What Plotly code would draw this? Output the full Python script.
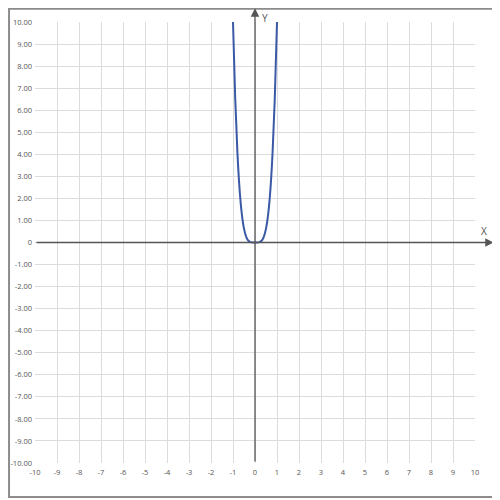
import plotly.graph_objects as go

# puntos
curva_x = [-1.0, -0.9, -0.8, -0.7, -0.6, -0.5, -0.4, -0.3, -0.2, -0.1, 0.0,
           0.1, 0.2, 0.3, 0.4, 0.5, 0.6, 0.7, 0.8, 0.9, 1.0]
curva_y = [10.0, 6.56, 4.10, 2.40, 1.30, 0.63, 0.26, 0.08, 0.02, 0.00, 0.0,
           0.00, 0.02, 0.08, 0.26, 0.63, 1.30, 2.40, 4.10, 6.56, 10.0]

ticks_x = list(range(-10, 11))
etiquetas_x = [str(v) for v in ticks_x]
ticks_y = list(range(-10, 11))
etiquetas_y = ["0" if v == 0 else f"{v:.2f}" for v in ticks_y]

gris_texto = "#555555"
gris_eje = "#555555"

trace = go.Scatter(
    x=curva_x, y=curva_y, mode="lines",
    line=dict(color="#3b5aa6", width=2, shape="spline"),
    hoverinfo="skip",
)

fig = go.Figure(data=[trace])

# la página tiene 8px de margen en el body, se compensa en los márgenes
fig.update_layout(
    width=492, height=492, autosize=False,
    margin=dict(l=27, r=25, t=14, b=37),
    paper_bgcolor="white", plot_bgcolor="white",
    showlegend=False,
    font=dict(family="Open Sans", size=7.5, color=gris_texto),
    xaxis=dict(
        range=[-10, 10], tickvals=ticks_x, ticktext=etiquetas_x,
        showgrid=True, gridcolor="#dcdcdc", gridwidth=1, automargin=False,
        zeroline=False, showline=False, ticks="", fixedrange=True,
        ticklabelstandoff=3,
    ),
    yaxis=dict(
        range=[-10, 10], tickvals=ticks_y, ticktext=etiquetas_y,
        showgrid=True, gridcolor="#dcdcdc", gridwidth=1, automargin=False,
        zeroline=False, showline=False, ticks="", fixedrange=True,
        ticklabelstandoff=2,
    ),
    shapes=[
        dict(type="rect", xref="paper", yref="paper",
             x0=-0.059, x1=1.052, y0=-0.077, y1=1.03,
             line=dict(color="#8c8c8c", width=2), layer="above"),
    ],
    annotations=[
        # eje Y con flecha
        dict(x=0, y=10.62, ax=0, ay=-10, xref="x", yref="y", axref="x", ayref="y",
             showarrow=True, arrowhead=2, arrowsize=1.3, arrowwidth=1.3,
             arrowcolor=gris_eje, text=""),
        # eje X con flecha
        dict(x=10.85, y=0, ax=-10, ay=0, xref="x", yref="y", axref="x", ayref="y",
             showarrow=True, arrowhead=2, arrowsize=1.3, arrowwidth=1.3,
             arrowcolor=gris_eje, text=""),
        dict(x=0.512, y=1.03, xref="paper", yref="paper", text="Y", showarrow=False,
             xanchor="left", yanchor="top", font=dict(size=10, color=gris_texto)),
        dict(x=1.0325, y=0.525, xref="paper", yref="paper", text="X", showarrow=False,
             font=dict(size=10, color=gris_texto)),
    ],
)

fig.write_html("out.html")
